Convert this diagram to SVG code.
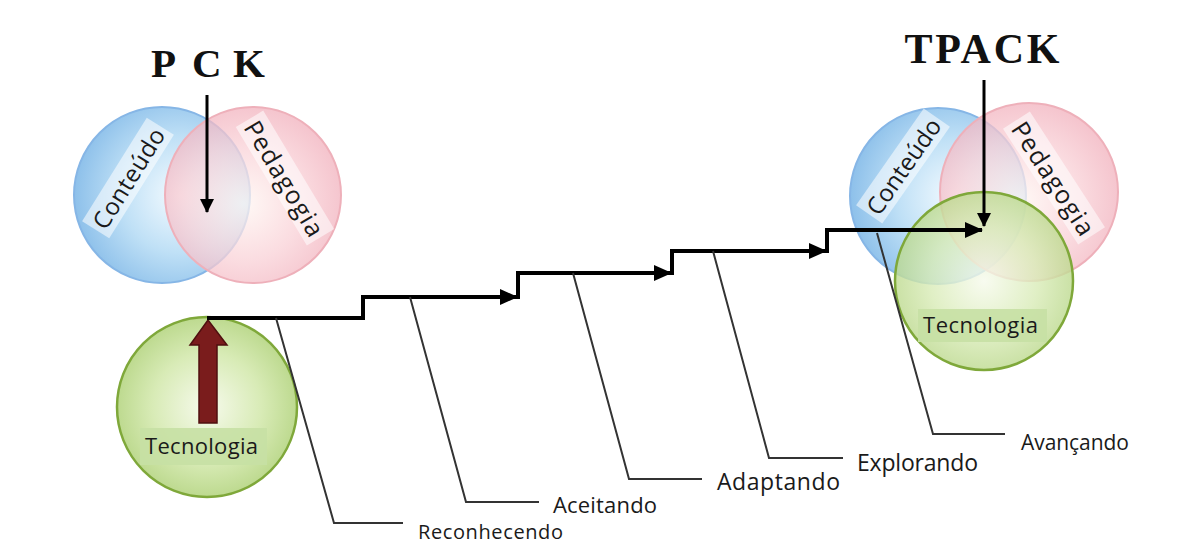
<svg xmlns="http://www.w3.org/2000/svg" width="1198" height="545" viewBox="0 0 1198 545">
<style>
.lbl{font-family:"Open Sans","Liberation Sans",sans-serif;fill:#1a1a1a}
.title{font-family:"Liberation Serif",serif;font-weight:bold;fill:#111}
.step{fill:none;stroke:#000;stroke-width:4;stroke-linejoin:miter}
.lead{fill:none;stroke:#333;stroke-width:2}
.ptr{fill:none;stroke:#000;stroke-width:3}
.blue{fill:url(#gBlue);stroke:#86b6e6;stroke-width:2}
.pink{fill:url(#gPink);stroke:#eeb0ba;stroke-width:2}
.green{fill:url(#gGreen);stroke:#7fa83a;stroke-width:2.5}
.tag{fill:#ffffff;fill-opacity:0.55}
.gtag{fill:#c6e0a4;fill-opacity:0.9}
</style>
<defs>
<radialGradient id="gBlue" cx="0.6" cy="0.5" r="0.6">
<stop offset="0" stop-color="#f4fbff"/><stop offset="0.55" stop-color="#bfe0f6"/><stop offset="1" stop-color="#8dc0ea"/>
</radialGradient>
<radialGradient id="gPink" cx="0.45" cy="0.55" r="0.6">
<stop offset="0" stop-color="#fff6f2"/><stop offset="0.55" stop-color="#f9d0d6"/><stop offset="1" stop-color="#f0acb9"/>
</radialGradient>
<radialGradient id="gGreen" cx="0.5" cy="0.5" r="0.55">
<stop offset="0" stop-color="#f6faec"/><stop offset="0.55" stop-color="#d8ebb6"/><stop offset="1" stop-color="#b6d585"/>
</radialGradient>
<marker id="ah" markerUnits="userSpaceOnUse" markerWidth="18" markerHeight="16" refX="17" refY="8" orient="auto">
<path d="M0,0 L18,8 L0,16 z" fill="#000"/>
</marker>
<marker id="ahs" markerUnits="userSpaceOnUse" markerWidth="14" markerHeight="14" refX="13" refY="7" orient="auto">
<path d="M0,0 L14,7 L0,14 z" fill="#000"/>
</marker>
</defs>
<rect width="1198" height="545" fill="#ffffff"/>

<g id="pck">
<text class="title" y="77" font-size="41"><tspan x="151">P</tspan><tspan x="192">C</tspan><tspan x="233">K</tspan></text>
<circle class="blue" cx="162" cy="195" r="88"/>
<circle class="pink" cx="253" cy="195" r="88" fill-opacity="0.75"/>
<g transform="translate(128,178) rotate(-58)">
<rect class="tag" x="-61" y="-16" width="122" height="32"/>
<text class="lbl" x="0" y="0" font-size="24" text-anchor="middle" dominant-baseline="central" textLength="114">Conteúdo</text>
</g>
<g transform="translate(285,178) rotate(59)">
<rect class="tag" x="-69" y="-16" width="138" height="32"/>
<text class="lbl" x="0" y="0" font-size="25" text-anchor="middle" dominant-baseline="central" textLength="130">Pedagogia</text>
</g>
<line class="ptr" x1="207" y1="95" x2="207" y2="212" marker-end="url(#ahs)"/>
</g>

<g id="tecnologia-left">
<circle class="green" cx="207" cy="407" r="90"/>
<polygon points="199,423 199,345 190,345 208,320 227,345 217,345 217,423" fill="#7a1c1c" stroke="#4f0f0f" stroke-width="1.5"/>
<rect class="gtag" x="140" y="428" width="127" height="37"/>
<text class="lbl" x="145" y="454" font-size="22" textLength="113">Tecnologia</text>
</g>

<g id="tpack">
<text class="title" x="982" y="63" font-size="42" text-anchor="middle" textLength="155">TPACK</text>
<circle class="blue" cx="938" cy="196" r="88"/>
<circle class="pink" cx="1029" cy="192" r="89" fill-opacity="0.75"/>
<circle class="green" cx="984" cy="281" r="89" fill-opacity="0.8"/>
<g transform="translate(903,166) rotate(-55)">
<rect class="tag" x="-59" y="-16" width="118" height="32"/>
<text class="lbl" x="0" y="0" font-size="24" text-anchor="middle" dominant-baseline="central" textLength="111">Conteúdo</text>
</g>
<g transform="translate(1054,178) rotate(57)">
<rect class="tag" x="-69" y="-16" width="138" height="32"/>
<text class="lbl" x="0" y="0" font-size="25" text-anchor="middle" dominant-baseline="central" textLength="130">Pedagogia</text>
</g>
<rect class="gtag" x="918" y="309" width="129" height="33"/>
<text class="lbl" x="923" y="333" font-size="22" textLength="115">Tecnologia</text>
<line class="ptr" x1="984" y1="80" x2="984" y2="226" marker-end="url(#ahs)"/>
</g>

<g id="connectors">
<path class="step" d="M207,318 H363 V297 H517" marker-end="url(#ah)"/>
<path class="step" d="M518,299 V273 H671" marker-end="url(#ah)"/>
<path class="step" d="M672,275 V251 H826" marker-end="url(#ah)"/>
<path class="step" d="M827,253 V230 H982" marker-end="url(#ah)"/>
<path class="lead" d="M276,318 L334,523 H403"/>
<path class="lead" d="M410,297 L466,502 H539"/>
<path class="lead" d="M573,273 L629,479 H702"/>
<path class="lead" d="M713,251 L769,458 H843"/>
<path class="lead" d="M877,233 L933,434 H1005"/>
</g>

<g id="stages">
<text class="lbl" x="418" y="539" font-size="20" textLength="145">Reconhecendo</text>
<text class="lbl" x="553" y="513" font-size="22" textLength="104">Aceitando</text>
<text class="lbl" x="717" y="490" font-size="23" textLength="123">Adaptando</text>
<text class="lbl" x="857" y="471" font-size="23" textLength="121">Explorando</text>
<text class="lbl" x="1021" y="450" font-size="21" textLength="108">Avançando</text>
</g>
</svg>
